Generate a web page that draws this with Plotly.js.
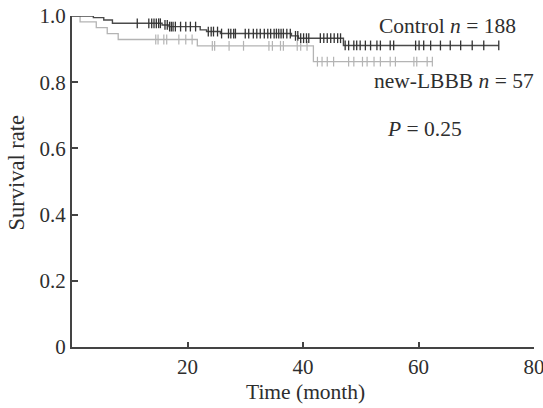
<!DOCTYPE html>
<html>
<head>
<meta charset="utf-8">
<script src="https://cdn.plot.ly/plotly-3.0.1.min.js"></script>
<style>
html,body{margin:0;padding:0;background:#fff;}
#chart{width:543px;height:408px;}
</style>
</head>
<body>
<div id="chart"></div>
<script>
// Kaplan-Meier step data (time in months, survival rate)
const controlTimes = [0, 3.7, 5.5, 7.0, 15.6, 16.8, 22.2, 23.3, 25.7, 38.0, 39.2, 47.0, 73.9];
const controlSurv  = [1.0, 0.995, 0.988, 0.978, 0.973, 0.968, 0.958, 0.953, 0.947, 0.940, 0.933, 0.911, 0.911];
const lbbbTimes = [0, 1.4, 4.2, 6.1, 8.0, 21.7, 41.8, 62.5];
const lbbbSurv  = [1.0, 0.982, 0.965, 0.947, 0.929, 0.910, 0.862, 0.862];

// censored observations (time in months)
const controlCensor = [11.3, 13.3, 13.8, 14.2, 14.6, 15.0, 15.3, 16.1, 16.5, 16.9, 17.2, 17.5, 17.9,
  18.8, 19.7, 20.5, 21.4, 23.6, 24.1, 24.5, 25.2, 25.9, 27.1, 27.5, 28.0, 28.3,
  30.0, 30.6, 31.4, 32.0, 32.6, 33.3, 33.9, 34.4, 35.0, 35.4, 35.8, 36.2, 36.6, 37.2, 37.8,
  38.7, 39.1, 39.6, 40.1, 40.6, 41.0, 43.0, 43.6, 44.2, 44.8, 45.4, 46.0, 46.5,
  47.3, 47.9, 48.8, 49.3, 49.9, 50.8, 51.7, 52.8, 53.4, 55.1, 55.7, 59.5, 60.1, 60.9,
  62.1, 63.8, 65.5, 67.3, 69.3, 71.3, 73.9];
const lbbbCensor = [14.5, 14.9, 15.9, 16.4, 18.5, 19.7, 20.8, 24.3, 24.7, 27.2, 29.7, 34.1, 34.7,
  36.1, 36.6, 39.0, 39.6, 40.7, 42.5, 43.3, 44.2, 45.3, 47.9, 48.8, 50.3, 51.1, 52.3,
  53.4, 55.1, 56.0, 59.2, 59.7, 61.5, 62.4];

const xTicks = [20, 40, 60, 80];
const yTicks = [0, 0.2, 0.4, 0.6, 0.8, 1.0];
const yTickText = ["0", "0.2", "0.4", "0.6", "0.8", "1.0"];

function survAt(t, times, surv) {
  let s = surv[0];
  for (let i = 0; i < times.length; i++) { if (times[i] <= t) s = surv[i]; }
  return s;
}

const darkCol = '#4a4a4a';
const lightCol = '#b4b4b4';
const txtCol = '#2e2e2e';

const traces = [
  {x: lbbbTimes, y: lbbbSurv, mode: 'lines', line: {shape: 'hv', color: lightCol, width: 1.3}, hoverinfo: 'skip'},
  {x: lbbbCensor, y: lbbbCensor.map(t => survAt(t, lbbbTimes, lbbbSurv)), mode: 'markers',
   marker: {symbol: 'line-ns-open', size: 7, color: lightCol, line: {color: lightCol, width: 1.2}}, hoverinfo: 'skip'},
  {x: controlTimes, y: controlSurv, mode: 'lines', line: {shape: 'hv', color: darkCol, width: 1.4}, hoverinfo: 'skip'},
  {x: controlCensor, y: controlCensor.map(t => survAt(t, controlTimes, controlSurv)), mode: 'markers',
   marker: {symbol: 'line-ns-open', size: 7, color: '#333', line: {color: '#333', width: 1.3}}, hoverinfo: 'skip'}
];

const fontFam = '"Liberation Serif", "Times New Roman", serif';
const fs = 21;
const layout = {
  width: 543, height: 408,
  margin: {l: 71.5, r: 9, t: 16, b: 61},
  paper_bgcolor: '#fff', plot_bgcolor: '#fff',
  showlegend: false,
  font: {family: fontFam, size: fs, color: txtCol},
  xaxis: {
    range: [0, 80], tickvals: xTicks, ticktext: xTicks.map(String),
    showgrid: false, zeroline: false, showline: true, linecolor: '#444', linewidth: 2,
    ticks: 'inside', ticklen: 5, tickwidth: 2, tickcolor: '#444',
    ticklabeloverflow: 'allow',
    tickfont: {family: fontFam, size: fs, color: txtCol}
  },
  yaxis: {
    range: [0, 1], tickvals: yTicks, ticktext: yTickText,
    showgrid: false, zeroline: false, showline: true, linecolor: '#444', linewidth: 2,
    ticks: 'inside', ticklen: 6, tickwidth: 2, tickcolor: '#444',
    tickfont: {family: fontFam, size: fs, color: txtCol}
  },
  annotations: [
    {x: 377, y: 25.5, text: 'Control <i>n</i> = 188', xanchor: 'left', size: 21.5},
    {x: 372, y: 81, text: 'new-LBBB <i>n</i> = 57', xanchor: 'left', size: 21.5},
    {x: 385, y: 129, text: '<i>P</i> = 0.25', xanchor: 'left', size: 21.5},
    {x: 305, y: 392, text: 'Time (month)', xanchor: 'center', size: 21.5},
    {x: 16, y: 173, text: 'Survival rate', xanchor: 'center', size: 22.5, textangle: -90}
  ]
};
// convert pixel positions of annotations to paper coordinates
const pw = 543 - 71.5 - 9, ph = 408 - 16 - 61;
layout.annotations.forEach(a => {
  a.xref = 'paper'; a.yref = 'paper'; a.showarrow = false; a.yanchor = 'middle';
  a.x = (a.x - 71.5) / pw; a.y = 1 - (a.y - 16) / ph;
  a.font = {family: fontFam, size: a.size, color: txtCol};
  delete a.size;
});

Plotly.newPlot('chart', traces, layout, {staticPlot: true, displayModeBar: false});
</script>
</body>
</html>
